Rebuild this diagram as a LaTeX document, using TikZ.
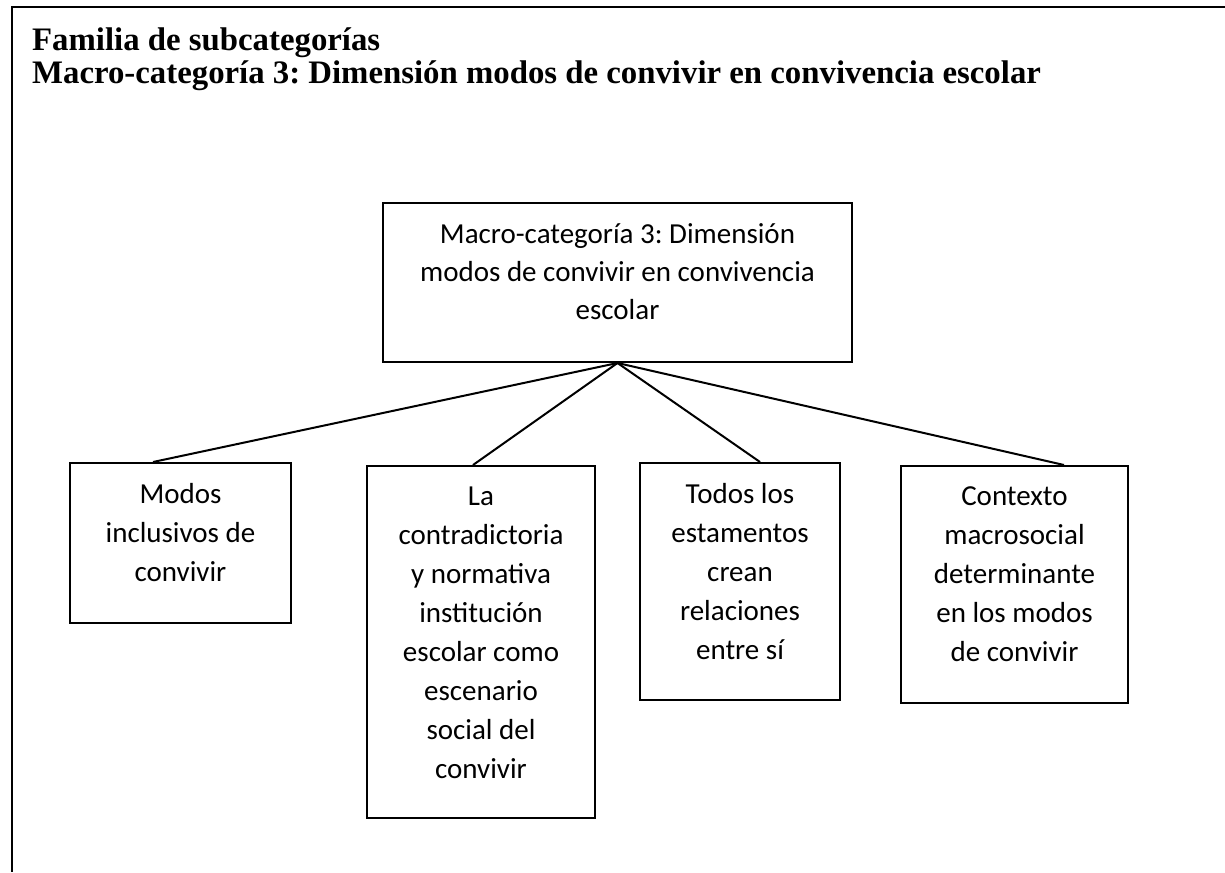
\documentclass[tikz,border=0pt]{standalone}
\usepackage{fontspec}
\setmainfont{Liberation Serif}
\newfontfamily\boxfont{Carlito}
\frenchspacing
\begin{document}
\begin{tikzpicture}[x=1pt,y=-1pt,
  box/.style={draw, line width=2pt, rectangle, inner sep=0pt},
  txt/.style={font=\boxfont\fontsize{29}{39}\selectfont, align=center, inner sep=0pt, anchor=base},
  link/.style={line width=2pt},
  title/.style={font=\bfseries\fontsize{32.8}{33}\selectfont, align=left, inner sep=0pt, anchor=base west}]
\useasboundingbox (0,0) rectangle (1225,872);
% outer frame (top and left visible)
\coordinate (frTR) at (1225,7);
\coordinate (frTL) at (12,7);
\coordinate (frBL) at (12,872);
\draw[line width=2.5pt] (frTR) -- (frTL) -- (frBL);
% title (anchor base = baseline of last line)
\node[title] (ttl) at (32,84) {Familia de subcategorías\\Macro-categoría 3: Dimensión modos de convivir en convivencia escolar};
% boxes
\node[box, minimum width=469pt, minimum height=159pt] (top) at (617.5,282.5) {};
\node[box, minimum width=221pt, minimum height=160pt] (b1) at (180.5,543) {};
\node[box, minimum width=228pt, minimum height=352pt] (b2) at (481,642) {};
\node[box, minimum width=200pt, minimum height=237pt] (b3) at (740,581.5) {};
\node[box, minimum width=227pt, minimum height=237pt] (b4) at (1014.5,584.5) {};
% texts (anchor base = baseline of last line)
\node[txt, font=\boxfont\fontsize{29}{38}\selectfont] (ttop) at (617.5,319) {Macro-categoría 3: Dimensión\\modos de convivir en convivencia\\escolar};
\node[txt] (t1) at (180.5,581) {Modos\\inclusivos de\\convivir};
\node[txt] (t2) at (481,778) {La\\contradictoria\\y normativa\\institución\\escolar como\\escenario\\social del\\convivir};
\node[txt] (t3) at (740,659) {Todos los\\estamentos\\crean\\relaciones\\entre sí};
\node[txt] (t4) at (1014.5,661) {Contexto\\macrosocial\\determinante\\en los modos\\de convivir};
% connectors
\draw[link] (top.south) -- ([xshift=-27.5pt]b1.north);
\draw[link] (top.south) -- ([xshift=-8pt]b2.north);
\draw[link] (top.south) -- ([xshift=20pt]b3.north);
\draw[link] (top.south) -- ([xshift=49.5pt]b4.north);
\end{tikzpicture}
\end{document}
